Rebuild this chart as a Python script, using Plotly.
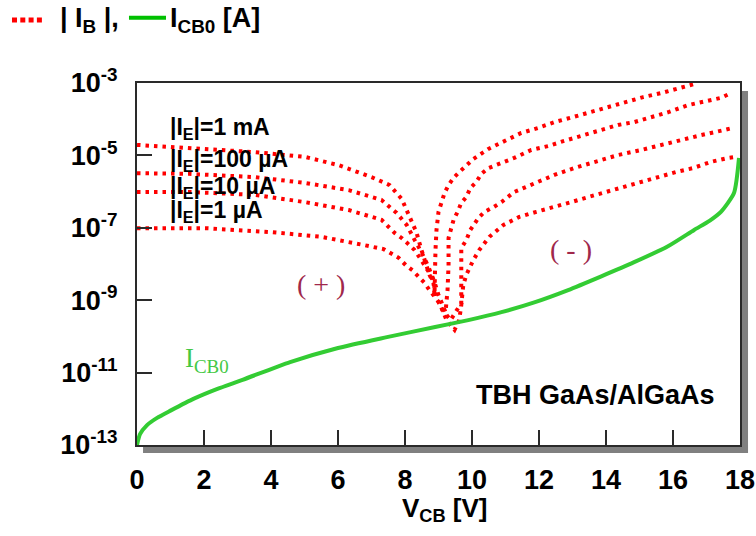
import numpy as np
import plotly.graph_objects as go

# ---- data (V_CB in volts, log10 of current in A) ----
v_1mA = [0, 1.55, 3.52, 5.01, 6.02, 7.00, 7.54, 7.90, 8.13, 8.34, 8.49, 8.64, 8.73, 8.85, 8.88,
         8.91, 8.94, 9.00, 9.09, 9.18, 9.30, 9.45, 9.62, 9.83, 10.04, 10.49, 10.97, 11.47, 11.98,
         12.46, 13.02, 13.56, 14.06, 14.54, 15.11, 15.64, 16.15, 16.63]
lg_1mA = [-4.71, -4.80, -4.91, -5.04, -5.27, -5.60, -5.82, -6.20, -6.65, -7.12, -7.61, -8.08, -8.30, -8.52, -8.86,
          -7.61, -7.06, -6.56, -6.29, -6.04, -5.82, -5.62, -5.46, -5.27, -5.10, -4.82, -4.60, -4.38, -4.24,
          -4.08, -3.94, -3.80, -3.66, -3.52, -3.39, -3.28, -3.14, -3.03]

v_100uA = [0, 1.55, 3.52, 5.01, 6.32, 7.30, 7.75, 8.05, 8.29, 8.49, 8.70, 8.88, 9.00, 9.21,
           9.27, 9.30, 9.30, 9.36, 9.45, 9.57, 9.68, 9.83, 9.95, 10.13, 10.28, 10.49, 10.73, 11.26,
           11.77, 12.28, 12.75, 13.32, 13.86, 14.36, 14.84, 15.35, 15.88, 16.45, 16.92, 17.43, 17.73]
lg_100uA = [-5.49, -5.51, -5.60, -5.76, -5.96, -6.23, -6.59, -6.92, -7.34, -7.67, -8.08, -8.50, -8.86, -9.33,
            -8.72, -8.03, -7.28, -7.06, -6.78, -6.56, -6.31, -6.15, -5.90, -5.73, -5.51, -5.35, -5.27, -5.07,
            -4.85, -4.74, -4.60, -4.44, -4.30, -4.16, -4.08, -3.94, -3.80, -3.61, -3.52, -3.41, -3.28]

v_10uA = [0, 1.55, 3.52, 5.01, 6.32, 7.30, 7.69, 7.90, 8.10, 8.28, 8.43, 8.58, 8.73, 8.85, 8.94, 9.12, 9.36,
          9.68, 9.68, 9.66, 9.68, 9.83, 9.95, 10.19, 10.37, 10.64, 10.88, 11.26, 11.86, 12.46, 13.05,
          13.65, 14.36, 15.05, 15.64, 16.24, 16.84, 17.52, 17.79]
lg_10uA = [-6.01, -6.01, -6.09, -6.29, -6.51, -6.78, -7.14, -7.28, -7.45, -7.61, -7.81, -8.03, -8.25, -8.50, -8.94, -9.27, -9.55,
           -9.08, -8.52, -7.94, -7.56, -7.34, -7.06, -6.73, -6.56, -6.43, -6.29, -6.01, -5.76, -5.54, -5.35,
           -5.18, -4.99, -4.85, -4.71, -4.57, -4.44, -4.30, -4.24]

v_1uA = [0, 2.03, 4.02, 5.51, 6.79, 7.36, 7.81, 8.02, 8.22, 8.40, 8.58, 8.73, 8.88, 9.03, 9.15, 9.24, 9.48,
         9.62, 9.68, 9.74, 9.83, 9.89, 10.04, 10.22, 10.52, 10.94, 11.41, 11.92, 12.46, 12.96, 13.47,
         14.00, 14.51, 15.05, 15.55, 16.09, 16.60, 17.13, 17.64, 17.88]
lg_1uA = [-7.01, -7.01, -7.12, -7.25, -7.48, -7.59, -7.83, -8.03, -8.17, -8.33, -8.52, -8.72, -8.91, -9.08, -9.35, -9.55, -9.82,
          -9.55, -9.13, -8.58, -8.30, -8.17, -7.89, -7.61, -7.25, -6.92, -6.70, -6.56, -6.43, -6.29, -6.15,
          -6.01, -5.87, -5.73, -5.62, -5.46, -5.35, -5.18, -5.07, -5.04]

v_icb0 = [0, 0.09, 0.30, 0.60, 1.00, 1.70, 2.40, 3.15, 4.57, 6.00, 7.46, 8.90, 9.89, 10.88, 11.86, 12.87,
          13.86, 14.84, 15.85, 16.63, 17.10, 17.43, 17.82, 17.97]
lg_icb0 = [-13.0, -12.70, -12.45, -12.25, -12.05, -11.72, -11.45, -11.20, -10.71, -10.32, -10.02, -9.74, -9.55, -9.33, -9.06, -8.72,
           -8.34, -7.95, -7.51, -7.06, -6.80, -6.56, -6.04, -5.07]

x_ticks = [0, 2, 4, 6, 8, 10, 12, 14, 16, 18]
y_tick_exp = [-3, -5, -7, -9, -11, -13]
curve_labels = ["|I<sub>E</sub>|=1 mA", "|I<sub>E</sub>|=100 µA", "|I<sub>E</sub>|=10 µA", "|I<sub>E</sub>|=1 µA"]

RED = "#ff0000"
GREEN = "#33cc33"
AXC = "#2a2a2a"
SANS = "Liberation Sans"
SERIF = "Liberation Serif"

fig = go.Figure()
for vx, lg in [(v_1mA, lg_1mA), (v_100uA, lg_100uA), (v_10uA, lg_10uA), (v_1uA, lg_1uA)]:
    fig.add_trace(go.Scatter(x=vx, y=10 ** np.array(lg), mode="lines",
                             line=dict(color=RED, width=4, dash="3.5px,5px"),
                             hoverinfo="skip"))
fig.add_trace(go.Scatter(x=v_icb0, y=10 ** np.array(lg_icb0), mode="lines",
                         line=dict(color=GREEN, width=4, shape="spline", smoothing=0.6),
                         hoverinfo="skip"))

axis_common = dict(showline=True, linewidth=2, linecolor=AXC, mirror=True,
                   ticks="inside", ticklen=15, tickwidth=2, tickcolor=AXC,
                   showgrid=False, zeroline=False, automargin=False,
                   tickfont=dict(family=SANS, size=27, color="black", weight="bold"))

fig.update_layout(
    width=756, height=536,
    margin=dict(l=137, r=16, t=83, b=91),
    paper_bgcolor="white", plot_bgcolor="white",
    showlegend=False,
    xaxis=dict(range=[0, 18], tickvals=x_ticks, ticktext=[str(t) for t in x_ticks],
               ticklabelstandoff=10, **axis_common),
    yaxis=dict(type="log", range=[-13, -3], tickvals=[10.0 ** e for e in y_tick_exp],
               ticktext=["10<sup>%d</sup>" % e for e in y_tick_exp],
               ticklabelstandoff=12, **axis_common),
)

# drop shadow of the frame
fig.add_shape(type="rect", xref="paper", yref="paper", x0=1.0, x1=1.0133, y0=-0.0221, y1=0.978,
              fillcolor="#808080", line_width=0, layer="below")
fig.add_shape(type="rect", xref="paper", yref="paper", x0=0.0100, x1=1.0133, y0=-0.0221, y1=0.0,
              fillcolor="#808080", line_width=0, layer="below")

# title-legend line samples
fig.add_shape(type="line", xref="paper", yref="paper", x0=-0.2073, x1=-0.1559, y0=1.174, y1=1.174,
              line=dict(color=RED, width=5, dash="5px,3.3px"))
fig.add_shape(type="line", xref="paper", yref="paper", x0=-0.0133, x1=0.0481, y0=1.18, y1=1.18,
              line=dict(color="#00c000", width=4))

bold = dict(family=SANS, color="black", weight="bold")
ann = [
    dict(x=-0.131, y=1.174, text="| I<sub>B</sub> |,", xanchor="left", yanchor="middle",
         font=dict(size=27, **bold)),
    dict(x=0.0514, y=1.174, text="I<sub>CB0</sub> [A]", xanchor="left", yanchor="middle",
         font=dict(size=27, **bold)),
    dict(x=0.511, y=-0.178, text="V<sub>CB</sub> [V]", xanchor="center", yanchor="middle",
         font=dict(size=26, **bold)),
    dict(x=0.761, y=0.138, text="TBH GaAs/AlGaAs", xanchor="center", yanchor="middle",
         font=dict(size=27, **bold)),
    dict(x=0.305, y=0.442, text="( + )", xanchor="center", yanchor="middle",
         font=dict(family=SERIF, size=28, color="#a0284b")),
    dict(x=0.720, y=0.541, text="( - )", xanchor="center", yanchor="middle",
         font=dict(family=SERIF, size=28, color="#a0284b")),
    dict(x=0.116, y=0.235, text="I<sub>CB0</sub>", xanchor="center", yanchor="middle",
         font=dict(family=SERIF, size=27, color="#44c844")),
]
for lbl, yy in zip(curve_labels, [0.873, 0.787, 0.710, 0.644]):
    ann.append(dict(x=0.0514, y=yy, text=lbl, xanchor="left", yanchor="middle",
                    font=dict(size=23, **bold)))
for a in ann:
    fig.add_annotation(xref="paper", yref="paper", showarrow=False, **a)

fig.write_html("out.html", config={"displayModeBar": False},
               post_script="document.body.style.margin='0';document.body.style.padding='0';")
